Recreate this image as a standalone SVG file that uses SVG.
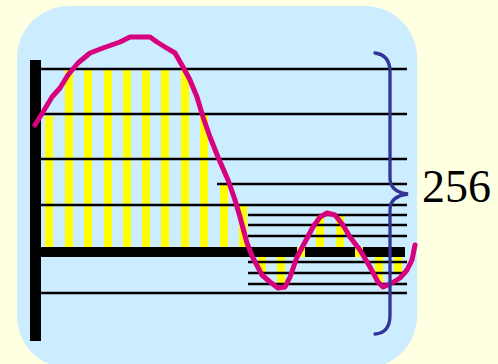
<svg xmlns="http://www.w3.org/2000/svg" width="498" height="364" viewBox="0 0 498 364">
<style>
.bar{fill:#FFFF00}
.ln{stroke:#000;stroke-width:2.3;fill:none}
.wave{stroke:#D7007F;stroke-width:5;fill:none;stroke-linejoin:round;stroke-linecap:round}
.brace{stroke:#333399;stroke-width:3.3;fill:none;stroke-linecap:round}
.lbl{font-family:"Liberation Serif","Times New Roman",serif;font-size:46px;fill:#000}
</style>
<rect x="0" y="0" width="498" height="364" fill="#FFFFE1"/>
<rect id="panel" x="17" y="6" width="400" height="362" rx="52" ry="52" fill="#CCECFF"/>
<g id="samples">
<rect class="bar" x="45" y="116" width="8" height="131"/>
<rect class="bar" x="65" y="70" width="8" height="177"/>
<rect class="bar" x="84" y="70" width="8" height="177"/>
<rect class="bar" x="104" y="70" width="8" height="177"/>
<rect class="bar" x="123" y="70" width="8" height="177"/>
<rect class="bar" x="142" y="70" width="8" height="177"/>
<rect class="bar" x="161" y="70" width="8" height="177"/>
<rect class="bar" x="181" y="70" width="8" height="177"/>
<rect class="bar" x="200" y="115" width="8" height="132"/>
<rect class="bar" x="220" y="185" width="8" height="62"/>
<rect class="bar" x="239" y="206" width="8" height="41"/>
<rect class="bar" x="258" y="257" width="8" height="16"/>
<rect class="bar" x="277" y="257" width="8" height="27"/>
<rect class="bar" x="316" y="215" width="8" height="32"/>
<rect class="bar" x="336" y="215" width="8" height="32"/>
<rect class="bar" x="375" y="257" width="8" height="27"/>
<rect class="bar" x="394" y="257" width="8" height="16"/>
</g>
<g id="levels">
<line class="ln" x1="41" y1="69" x2="407" y2="69"/>
<line class="ln" x1="41" y1="114" x2="407" y2="114"/>
<line class="ln" x1="41" y1="159" x2="407" y2="159"/>
<line class="ln" x1="217" y1="184" x2="407" y2="184"/>
<line class="ln" x1="41" y1="205" x2="407" y2="205"/>
<line class="ln" x1="248" y1="215" x2="407" y2="215"/>
<line class="ln" x1="248" y1="225" x2="407" y2="225"/>
<line class="ln" x1="248" y1="236" x2="407" y2="236"/>
<line class="ln" x1="248" y1="262" x2="407" y2="262"/>
<line class="ln" x1="248" y1="273" x2="407" y2="273"/>
<line class="ln" x1="248" y1="284" x2="407" y2="284"/>
<line class="ln" x1="41" y1="293" x2="407" y2="293"/>
<rect id="zero-axis" x="41" y="247" width="364" height="10" fill="#000"/>
<rect id="y-axis" x="30" y="60" width="11" height="281" fill="#000"/>
</g>
<g id="samples-zero">
<rect class="bar" x="297" y="247" width="8" height="10"/>
<rect class="bar" x="355" y="247" width="8" height="10"/>
</g>
<g id="connectors">
<polyline id="signal" class="wave" points="35,125 43,112 52,97 60,88 68,75 78,63 90,53 103,48 120,42 130,37 150,37 157,42 165,47 175,53 183,67 190,80 197,97 203,117 210,137 218,157 228,180 235,200 240,217 247,243 253,258 262,275 270,282 278,288 285,287 290,277 297,257 305,242 313,227 320,217 327,213 335,215 343,225 350,237 360,250 370,267 378,282 383,287 392,283 400,278 407,270 412,260 415,245"/>
<path id="range-brace" class="brace" d="M375,53 Q390,55 390,72 L390,178 Q390,192 408,194 Q390,196 390,210 L390,315 Q390,333 375,334"/>
</g>
<g id="label">
<text class="lbl" x="422" y="202">256</text>
</g>
</svg>
